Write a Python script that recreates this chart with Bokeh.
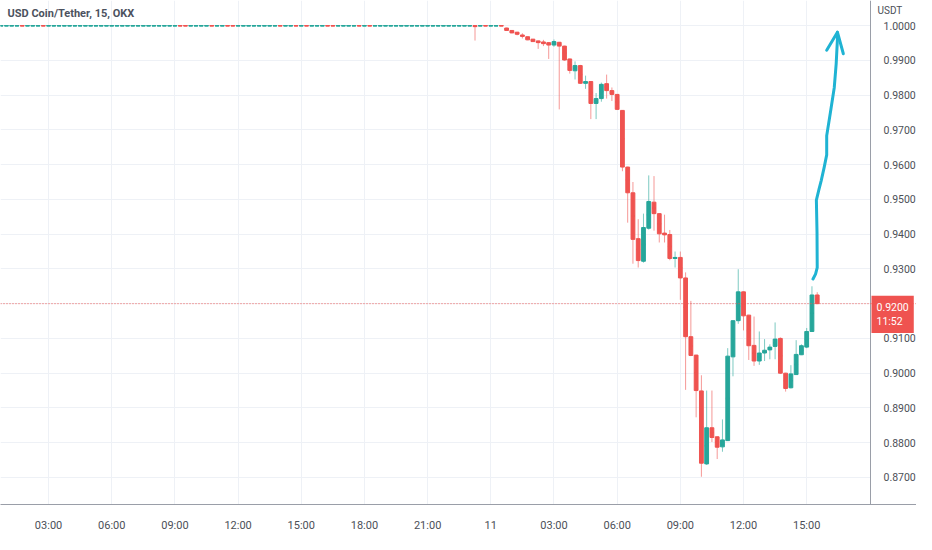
import numpy as np
from bokeh.plotting import figure
from bokeh.models import (Range1d, FixedTicker, NumeralTickFormatter, Span, Label,
                          LinearAxis, BoxAnnotation)
from bokeh.embed import file_html
from bokeh.resources import INLINE

# ---------------- data ----------------
# bar open times, hours since day 10 00:00 (15-minute bars)
bar_start = 0.75
bar_step = 0.25

# flat period (day 10 00:45 .. day 11 00:30), 96 bars
flat_open = [
    0.9999, 0.9999, 0.9999, 0.9999, 1.0000, 0.9999, 0.9999, 0.9999, 1.0000, 0.9999, 0.9999, 0.9999,
    0.9999, 0.9999, 0.9999, 0.9999, 0.9999, 0.9999, 0.9999, 0.9999, 0.9999, 0.9999, 0.9999, 0.9999,
    0.9999, 0.9999, 0.9999, 0.9999, 0.9999, 0.9999, 0.9999, 0.9999, 0.9999, 0.9999, 1.0000, 1.0000,
    0.9999, 0.9999, 0.9999, 0.9999, 1.0000, 0.9999, 0.9999, 1.0000, 1.0000, 0.9999, 0.9999, 0.9999,
    0.9999, 0.9999, 0.9999, 0.9999, 0.9999, 1.0000, 0.9999, 0.9999, 1.0000, 0.9999, 1.0000, 0.9999,
    0.9999, 0.9999, 1.0000, 1.0000, 0.9999, 0.9999, 0.9999, 0.9999, 1.0000, 0.9999, 1.0000, 0.9999,
    0.9999, 0.9999, 0.9999, 0.9999, 0.9999, 0.9999, 0.9999, 0.9999, 0.9999, 0.9999, 0.9999, 0.9999,
    0.9999, 0.9999, 0.9999, 0.9999, 0.9999, 0.9999, 1.0000, 0.9999, 1.0000, 0.9999, 0.9999, 1.0000,
]
flat_close = [
    1.0000, 1.0000, 1.0000, 1.0000, 0.9999, 1.0000, 1.0000, 1.0000, 0.9999, 1.0000, 1.0000, 1.0000,
    1.0000, 1.0000, 1.0000, 1.0000, 1.0000, 1.0000, 1.0000, 1.0000, 1.0000, 1.0000, 1.0000, 1.0000,
    1.0000, 1.0000, 1.0000, 1.0000, 1.0000, 1.0000, 1.0000, 1.0000, 1.0000, 1.0000, 0.9999, 0.9999,
    1.0000, 1.0000, 1.0000, 1.0000, 0.9999, 1.0000, 1.0000, 0.9999, 0.9999, 1.0000, 1.0000, 1.0000,
    1.0000, 1.0000, 1.0000, 1.0000, 1.0000, 0.9999, 1.0000, 1.0000, 0.9999, 1.0000, 0.9999, 1.0000,
    1.0000, 1.0000, 0.9999, 0.9999, 1.0000, 1.0000, 1.0000, 1.0000, 0.9999, 1.0000, 0.9999, 1.0000,
    1.0000, 1.0000, 1.0000, 1.0000, 1.0000, 1.0000, 1.0000, 1.0000, 1.0000, 1.0000, 1.0000, 1.0000,
    1.0000, 1.0000, 1.0000, 1.0000, 1.0000, 1.0000, 0.9997, 1.0000, 0.9999, 1.0000, 1.0000, 0.9999,
]
flat_high = [
    1.0000, 1.0000, 1.0000, 1.0000, 1.0000, 1.0000, 1.0000, 1.0000, 1.0000, 1.0000, 1.0000, 1.0000,
    1.0000, 1.0000, 1.0000, 1.0000, 1.0000, 1.0000, 1.0000, 1.0000, 1.0000, 1.0000, 1.0000, 1.0000,
    1.0000, 1.0000, 1.0000, 1.0000, 1.0000, 1.0000, 1.0000, 1.0000, 1.0000, 1.0000, 1.0000, 1.0000,
    1.0000, 1.0000, 1.0000, 1.0000, 1.0000, 1.0000, 1.0000, 1.0000, 1.0000, 1.0000, 1.0000, 1.0000,
    1.0000, 1.0000, 1.0000, 1.0000, 1.0000, 1.0000, 1.0000, 1.0000, 1.0000, 1.0000, 1.0000, 1.0000,
    1.0000, 1.0000, 1.0000, 1.0000, 1.0000, 1.0000, 1.0000, 1.0000, 1.0000, 1.0000, 1.0000, 1.0000,
    1.0000, 1.0000, 1.0000, 1.0000, 1.0000, 1.0000, 1.0000, 1.0000, 1.0000, 1.0000, 1.0000, 1.0000,
    1.0000, 1.0000, 1.0000, 1.0000, 1.0000, 1.0000, 1.0000, 1.0000, 1.0000, 1.0000, 1.0000, 1.0000,
]
flat_low = [
    0.9999, 0.9999, 0.9999, 0.9999, 0.9999, 0.9999, 0.9999, 0.9999, 0.9999, 0.9999, 0.9999, 0.9999,
    0.9999, 0.9999, 0.9999, 0.9999, 0.9999, 0.9999, 0.9999, 0.9999, 0.9999, 0.9999, 0.9999, 0.9999,
    0.9999, 0.9999, 0.9999, 0.9999, 0.9999, 0.9999, 0.9999, 0.9999, 0.9999, 0.9999, 0.9999, 0.9999,
    0.9999, 0.9999, 0.9999, 0.9999, 0.9999, 0.9999, 0.9999, 0.9999, 0.9999, 0.9999, 0.9999, 0.9999,
    0.9999, 0.9999, 0.9999, 0.9999, 0.9999, 0.9999, 0.9999, 0.9999, 0.9999, 0.9999, 0.9999, 0.9999,
    0.9999, 0.9999, 0.9999, 0.9999, 0.9999, 0.9999, 0.9999, 0.9999, 0.9999, 0.9999, 0.9999, 0.9999,
    0.9999, 0.9999, 0.9999, 0.9999, 0.9999, 0.9999, 0.9999, 0.9999, 0.9999, 0.9999, 0.9999, 0.9999,
    0.9999, 0.9999, 0.9999, 0.9999, 0.9999, 0.9999, 0.9957, 0.9999, 0.9999, 0.9999, 0.9999, 0.9999,
]

# de-peg period (day 11 00:45 .. 15:30), 60 bars
drop_open = [
    0.9993, 0.9986, 0.9981, 0.9973, 0.9968, 0.9961, 0.9956, 0.9953, 0.9951, 0.9944,
    0.9952, 0.9941, 0.9904, 0.9870, 0.9885, 0.9834, 0.9839, 0.9776, 0.9790, 0.9833,
    0.9813, 0.9802, 0.9756, 0.9593, 0.9519, 0.9387, 0.9322, 0.9417, 0.9492, 0.9459,
    0.9403, 0.9399, 0.9330, 0.9333, 0.9274, 0.9105, 0.9052, 0.8949, 0.8739, 0.8843,
    0.8817, 0.8788, 0.8806, 0.9047, 0.9151, 0.9234, 0.9167, 0.9080, 0.9035, 0.9058,
    0.9067, 0.9077, 0.9100, 0.9000, 0.8958, 0.8996, 0.9053, 0.9075, 0.9120, 0.9225,
]
drop_close = [
    0.9986, 0.9979, 0.9975, 0.9969, 0.9959, 0.9954, 0.9951, 0.9948, 0.9944, 0.9954,
    0.9941, 0.9901, 0.9871, 0.9885, 0.9834, 0.9839, 0.9776, 0.9790, 0.9831, 0.9813,
    0.9802, 0.9759, 0.9593, 0.9519, 0.9385, 0.9324, 0.9419, 0.9494, 0.9459, 0.9401,
    0.9398, 0.9330, 0.9333, 0.9274, 0.9105, 0.9051, 0.8950, 0.8741, 0.8843, 0.8815,
    0.8787, 0.8808, 0.9049, 0.9151, 0.9234, 0.9165, 0.9079, 0.9035, 0.9058, 0.9066,
    0.9075, 0.9098, 0.9000, 0.8956, 0.8998, 0.9054, 0.9079, 0.9120, 0.9225, 0.9200,
]
drop_high = [
    0.9994, 0.9987, 0.9982, 0.9978, 0.9968, 0.9961, 0.9957, 0.9959, 0.9952, 0.9960,
    0.9953, 0.9942, 0.9905, 0.9897, 0.9887, 0.9856, 0.9840, 0.9806, 0.9836, 0.9859,
    0.9822, 0.9803, 0.9757, 0.9594, 0.9550, 0.9443, 0.9459, 0.9569, 0.9567, 0.9460,
    0.9456, 0.9412, 0.9350, 0.9350, 0.9290, 0.9208, 0.9053, 0.8994, 0.8950, 0.8950,
    0.8818, 0.8867, 0.9072, 0.9152, 0.9299, 0.9235, 0.9168, 0.9163, 0.9120, 0.9098,
    0.9083, 0.9146, 0.9103, 0.9001, 0.9023, 0.9095, 0.9083, 0.9130, 0.9250, 0.9233,
]
drop_low = [
    0.9985, 0.9978, 0.9972, 0.9963, 0.9958, 0.9953, 0.9933, 0.9941, 0.9904, 0.9939,
    0.9759, 0.9899, 0.9862, 0.9845, 0.9832, 0.9818, 0.9731, 0.9731, 0.9781, 0.9790,
    0.9783, 0.9757, 0.9581, 0.9433, 0.9315, 0.9304, 0.9318, 0.9413, 0.9410, 0.9376,
    0.9376, 0.9325, 0.9304, 0.9211, 0.8952, 0.9049, 0.8873, 0.8702, 0.8736, 0.8802,
    0.8753, 0.8774, 0.8805, 0.8991, 0.9142, 0.9123, 0.9038, 0.9021, 0.9024, 0.9035,
    0.9040, 0.9040, 0.8998, 0.8947, 0.8956, 0.8995, 0.9052, 0.9072, 0.9119, 0.9199,
]

last_price = 0.9200
countdown = "11:52"

# axis ticks
x_tick_hours = [3, 6, 9, 12, 15, 18, 21, 24, 27, 30, 33, 36, 39]
x_tick_labels = ["03:00", "06:00", "09:00", "12:00", "15:00", "18:00", "21:00",
                 "11", "03:00", "06:00", "09:00", "12:00", "15:00"]
y_ticks = [0.87, 0.88, 0.89, 0.90, 0.91, 0.92, 0.93, 0.94, 0.95, 0.96, 0.97, 0.98, 0.99, 1.00]

# hand-drawn arrow annotation (hours, price)
arrow_t = [39.30, 39.42, 39.50, 39.49, 39.46, 39.58, 39.69, 39.83, 39.95, 39.95, 40.12, 40.31, 40.40, 40.46, 40.46]
arrow_p = [0.9271, 0.9285, 0.9304, 0.9406, 0.9498, 0.9528, 0.9554, 0.9592, 0.9628, 0.9683, 0.9748, 0.9822, 0.9890, 0.9961, 0.9981]
arrow_head_t = [39.95, 40.46, 40.74]
arrow_head_p = [0.9929, 0.9981, 0.9919]

# ---------------- build ----------------
o = np.array(flat_open + drop_open)
h = np.array(flat_high + drop_high)
l = np.array(flat_low + drop_low)
c = np.array(flat_close + drop_close)
t = bar_start + bar_step * np.arange(len(o))

UP = "#26a69a"
DOWN = "#ef5350"
colors = [UP if cc >= oo else DOWN for oo, cc in zip(o, c)]

# visible chart window; the price scale column sits to the right of X1
X0, X1 = 0.718, 42.03
AXIS_COL_PX = 46
FRAME_W = 916
CHART_W = FRAME_W - AXIS_COL_PX
X_END = X1 + (X1 - X0) * AXIS_COL_PX / CHART_W
Y0, Y1 = 0.86222, 1.00722

p = figure(width=916, height=534, output_backend="svg", toolbar_location=None,
           x_range=Range1d(X0, X_END), y_range=Range1d(Y0, Y1),
           y_axis_location=None, min_border_left=0, min_border_top=0,
           min_border_right=0, min_border_bottom=28)
p.outline_line_color = None
p.background_fill_color = "white"
p.border_fill_color = "white"

FONT = "Roboto"
TXT = "#4c4f57"
AXIS_LINE = "#9a9ea8"

xa = p.xaxis[0]
xa.ticker = FixedTicker(ticks=x_tick_hours)
xa.major_label_overrides = {tk: lb for tk, lb in zip(x_tick_hours, x_tick_labels)}
xa.major_label_text_font = FONT
xa.major_label_text_font_size = "11px"
xa.major_label_text_color = TXT
xa.major_tick_line_color = None
xa.minor_tick_line_color = None
xa.axis_line_color = AXIS_LINE
xa.major_label_standoff = 8

p.xgrid.ticker = FixedTicker(ticks=x_tick_hours)
p.ygrid.ticker = FixedTicker(ticks=y_ticks)
p.xgrid.grid_line_color = "#eef1f6"
p.ygrid.grid_line_color = "#eef1f6"

# wicks
p.segment(x0=t, y0=h, x1=t, y1=l, line_color=colors, line_alpha=0.6, line_width=1)
# bodies
p.vbar(x=t, width=0.18, top=np.maximum(o, c), bottom=np.minimum(o, c),
       fill_color=colors, line_color=colors, line_width=1)
# minimum visible body for near-flat bars
p.rect(x=t, y=(o + c) / 2, width=0.18, height=1.5, height_units="screen",
       fill_color=colors, line_color=None)

# arrow
p.line(arrow_t, arrow_p, line_color="#1fb3d3", line_width=3,
       line_cap="round", line_join="round")
p.line(arrow_head_t, arrow_head_p, line_color="#1fb3d3", line_width=3,
       line_cap="round", line_join="round")

# white price-scale column (hides grid lines there)
p.add_layout(BoxAnnotation(left=X1, fill_color="white", fill_alpha=1.0,
                           line_color=None, level="glyph"))

# price scale (right), drawn at the chart's right edge
ya = LinearAxis(fixed_location=X1, ticker=FixedTicker(ticks=y_ticks),
                formatter=NumeralTickFormatter(format="0.0000"))
ya.major_label_text_font = FONT
ya.major_label_text_font_size = "10.5px"
ya.major_label_text_color = TXT
ya.major_tick_line_color = None
ya.minor_tick_line_color = None
ya.axis_line_color = AXIS_LINE
ya.major_label_standoff = 7
# the scale label at the last price is covered by the price tag
ya.major_label_overrides = {last_price: ""}
p.add_layout(ya, "right")

# last price line
p.add_layout(Span(location=last_price, dimension="width", line_color=DOWN,
                  line_dash="1 2", line_width=1))

# title
p.add_layout(Label(x=X0, y=Y1, x_offset=7, y_offset=-13, text="USD Coin/Tether, 15, OKX",
                   text_baseline="middle", text_font=FONT, text_font_size="11px",
                   text_font_style="bold", text_color="#4c525e"))
# currency
p.add_layout(Label(x=X1, y=Y1, x_offset=7, y_offset=-10, text="USDT",
                   text_baseline="middle", text_font=FONT, text_font_size="10px",
                   text_color=TXT))
# price tag
p.add_layout(Label(x=X1, y=last_price, x_offset=1, y_offset=8,
                   text="%.4f\n%s" % (last_price, countdown), text_baseline="top",
                   text_font=FONT, text_font_size="10.5px", text_color="white",
                   text_line_height=1.1,
                   background_fill_color=DOWN, padding=5))

open("out.html", "w").write(file_html(p, INLINE))
